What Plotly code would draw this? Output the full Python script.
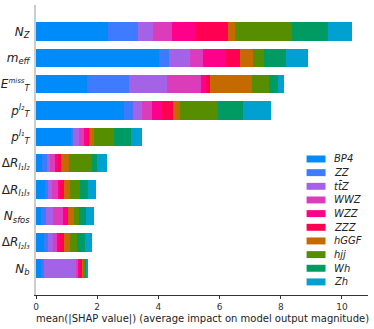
import plotly.graph_objects as go

# features, bottom to top
features = [
    "<i>N</i><sub><i>b</i></sub>",
    "Δ<i>R</i><sub><i>l₂l₃</i></sub>",
    "<i>N</i><sub><i>sfos</i></sub>",
    "Δ<i>R</i><sub><i>l₁l₃</i></sub>",
    "Δ<i>R</i><sub><i>l₁l₂</i></sub>",
    "<i>p</i><sup><i>l₁</i></sup><sub><i>T</i></sub>",
    "<i>p</i><sup><i>l₂</i></sup><sub><i>T</i></sub>",
    "<i>E</i><sup><span style='font-size:7px'><i>miss</i></span></sup><sub><i>T</i></sub>",
    "<i>m</i><sub><i>eff</i></sub>",
    "<i>N</i><sub><i>Z</i></sub>",
]

classes = ["BP4", "ZZ", "tt̄Z", "WWZ", "WZZ", "ZZZ", "hGGF", "hjj", "Wh", "Zh"]
colors = ["#008BFB", "#3F7BFF", "#A462E6", "#DB3CBA", "#FF008A", "#FF0052",
          "#C46A00", "#568E00", "#009B63", "#00A0D0"]

# mean |SHAP| per class, features ordered as above (N_b ... N_Z)
bp4 = [0.15, 0.26, 0.17, 0.29, 0.20, 1.13, 2.88, 1.66, 4.03, 2.35]
zz = [0.11, 0.14, 0.17, 0.11, 0.15, 0.09, 0.30, 1.39, 0.32, 0.98]
ttz = [1.04, 0.17, 0.23, 0.13, 0.11, 0.20, 0.29, 1.22, 0.67, 0.48]
wwz = [0.08, 0.13, 0.31, 0.19, 0.15, 0.15, 0.33, 1.11, 0.44, 0.62]
wzz = [0.06, 0.09, 0.16, 0.07, 0.11, 0.09, 0.33, 0.16, 0.71, 0.81]
zzz = [0.05, 0.13, 0.02, 0.13, 0.11, 0.08, 0.35, 0.13, 0.50, 1.03]
hggf = [0.07, 0.19, 0.18, 0.19, 0.24, 0.16, 0.24, 1.38, 0.43, 0.23]
hjj = [0.06, 0.24, 0.17, 0.32, 0.75, 0.65, 1.22, 0.55, 0.36, 1.87]
wh = [0.04, 0.24, 0.22, 0.27, 0.18, 0.54, 0.81, 0.30, 0.71, 1.17]
zh = [0.05, 0.23, 0.28, 0.27, 0.33, 0.38, 0.92, 0.20, 0.72, 0.80]

series = [bp4, zz, ttz, wwz, wzz, zzz, hggf, hjj, wh, zh]

fig = go.Figure()
for name, col, vals in zip(classes, colors, series):
    fig.add_trace(go.Bar(
        x=vals,
        y=list(range(len(features))),
        orientation="h",
        name=name,
        marker=dict(color=col, line=dict(width=0)),
        width=0.7,
        showlegend=False,
    ))

# compact legend like matplotlib's (plotly's own rows are too tall)
leg_x0, leg_top, leg_step = 0.815, 0.469, 0.0471
for i, (name, col) in enumerate(zip(classes, colors)):
    yc = leg_top - i * leg_step
    fig.add_shape(
        type="rect", xref="paper", yref="paper",
        x0=leg_x0, x1=leg_x0 + 0.057, y0=yc - 0.012, y1=yc + 0.012,
        fillcolor=col, line=dict(width=0),
    )
    fig.add_annotation(
        text=f"<i>{name}</i>", xref="paper", yref="paper",
        x=leg_x0 + 0.078, y=yc, xanchor="left", yanchor="middle",
        showarrow=False, font=dict(size=10, color="#222222"),
    )

# x-axis title, placed close under the tick labels
fig.add_annotation(
    text="mean(|SHAP value|) (average impact on model output magnitude)",
    xref="paper", yref="paper", x=0.5, y=-0.082,
    xanchor="center", yanchor="middle", showarrow=False,
    font=dict(size=10, color="#222222"),
)

fig.update_layout(
    width=374,
    height=329,
    barmode="stack",
    bargap=0.3,
    paper_bgcolor="white",
    plot_bgcolor="white",
    font=dict(family="DejaVu Sans", color="#333333"),
    margin=dict(l=36, r=6, t=5, b=34, autoexpand=False),
    showlegend=False,
    xaxis=dict(
        range=[0, 10.85],
        tickvals=[0, 2, 4, 6, 8, 10],
        ticks="outside",
        ticklen=3,
        tickcolor="#333333",
        showline=True,
        linecolor="#333333",
        linewidth=1,
        showgrid=False,
        zeroline=False,
        ticklabelstandoff=0,
        tickfont=dict(size=9, color="#333333"),
    ),
    yaxis=dict(
        range=[-1, 10],
        tickvals=list(range(len(features))),
        ticktext=features,
        showline=True,
        linecolor="#cccccc",
        linewidth=2,
        showgrid=False,
        zeroline=False,
        ticks="",
        ticklabelstandoff=2,
        tickfont=dict(size=12, color="#222222"),
    ),
)

fig.write_html(
    "out.html",
    config={"displayModeBar": False},
    post_script="document.body.style.margin='0';",
)
